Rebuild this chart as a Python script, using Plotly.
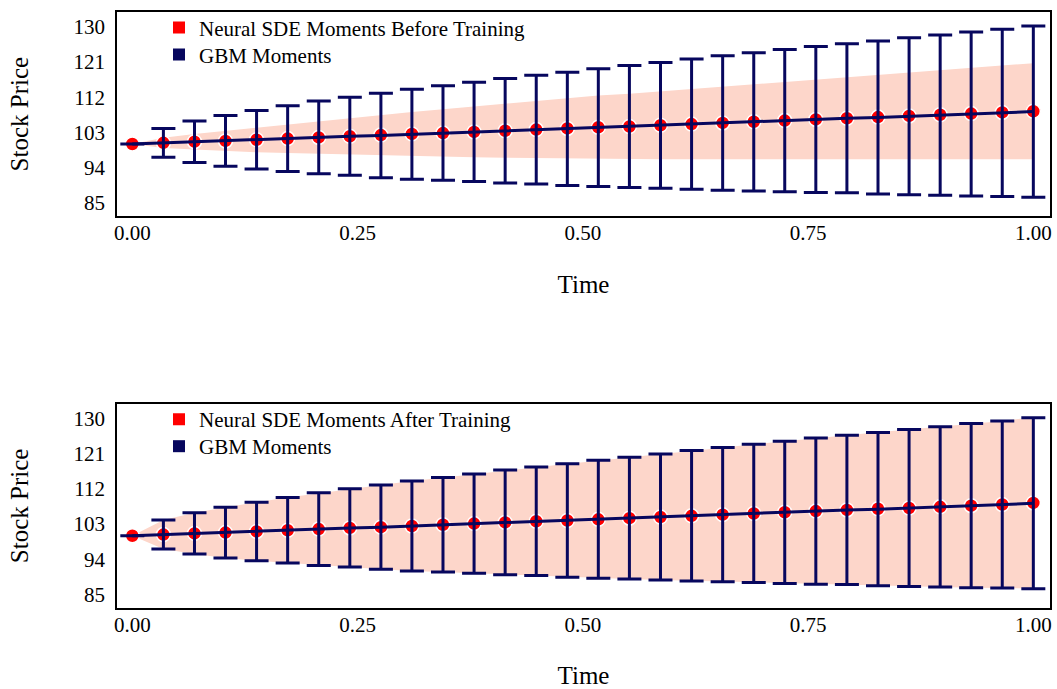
import plotly.graph_objects as go

# ---------------- data ----------------
time = [0.0, 0.0345, 0.0690, 0.1034, 0.1379, 0.1724, 0.2069, 0.2414, 0.2759, 0.3103,
        0.3448, 0.3793, 0.4138, 0.4483, 0.4828, 0.5172, 0.5517, 0.5862, 0.6207, 0.6552,
        0.6897, 0.7241, 0.7586, 0.7931, 0.8276, 0.8621, 0.8966, 0.9310, 0.9655, 1.0]

gbm_mean = [100.0, 100.3, 100.6, 100.8, 101.1, 101.4, 101.7, 102.0, 102.2, 102.5,
            102.8, 103.1, 103.4, 103.7, 103.9, 104.2, 104.5, 104.8, 105.1, 105.4,
            105.7, 106.0, 106.3, 106.6, 106.8, 107.1, 107.4, 107.7, 108.0, 108.3]
gbm_std = [0.0, 3.7, 5.3, 6.5, 7.5, 8.4, 9.3, 10.0, 10.8, 11.5,
           12.1, 12.7, 13.4, 13.9, 14.5, 15.1, 15.6, 16.1, 16.7, 17.2,
           17.7, 18.2, 18.7, 19.1, 19.6, 20.1, 20.5, 21.0, 21.4, 21.9]

sde_mean_before = [100.0, 100.3, 100.6, 100.8, 101.1, 101.4, 101.7, 102.0, 102.3, 102.6,
                   102.8, 103.1, 103.4, 103.7, 104.0, 104.3, 104.5, 104.8, 105.1, 105.4,
                   105.7, 106.0, 106.3, 106.6, 106.9, 107.2, 107.5, 107.8, 108.1, 108.4]
sde_std_before = [0.0, 1.3, 2.0, 2.6, 3.2, 3.7, 4.2, 4.7, 5.2, 5.6,
                  6.1, 6.5, 6.9, 7.3, 7.7, 8.1, 8.4, 8.7, 9.0, 9.3,
                  9.6, 9.9, 10.2, 10.5, 10.8, 11.1, 11.4, 11.7, 12.0, 12.3]

sde_mean_after = [100.0, 100.3, 100.6, 100.8, 101.1, 101.4, 101.7, 102.0, 102.2, 102.5,
                  102.8, 103.1, 103.4, 103.7, 103.9, 104.2, 104.5, 104.8, 105.1, 105.4,
                  105.7, 106.0, 106.3, 106.6, 106.9, 107.1, 107.4, 107.7, 108.0, 108.4]
sde_std_after = [0.0, 3.7, 5.3, 6.5, 7.5, 8.4, 9.2, 10.0, 10.8, 11.5,
                 12.1, 12.7, 13.3, 13.9, 14.5, 15.0, 15.6, 16.1, 16.6, 17.2,
                 17.7, 18.2, 18.6, 19.1, 19.6, 20.1, 20.5, 21.0, 21.4, 21.9]

y_ticks = [85, 94, 103, 112, 121, 130]
x_ticks = [0.0, 0.25, 0.5, 0.75, 1.0]
legend_labels = ["Neural SDE Moments Before Training", "Neural SDE Moments After Training"]
gbm_label = "GBM Moments"

# ---------------- style ----------------
BAND = "#FDD6CA"
RED = "#FF0000"
NAVY = "#07075E"
FONT = "Liberation Serif"

# plot-area pixel geometry
FIG_W, FIG_H = 1057, 689
M_L, M_R, M_T, M_B = 117, 7, 10, 81
PLOT_H = FIG_H - M_T - M_B
PLOT_W = FIG_W - M_L - M_R


def py(pix):
    """pixel row -> paper y coordinate"""
    return (FIG_H - M_B - pix) / PLOT_H


fig = go.Figure()

panels = [
    ("x", "y", ("legend", "legend2"), sde_mean_before, sde_std_before, legend_labels[0]),
    ("x2", "y2", ("legend3", "legend4"), sde_mean_after, sde_std_after, legend_labels[1]),
]

for xref, yref, legs, m, s, lab in panels:
    lower = [a - b for a, b in zip(m, s)]
    upper = [a + b for a, b in zip(m, s)]
    fig.add_trace(go.Scatter(x=time, y=lower, mode="lines", line=dict(width=0, color=BAND),
                             showlegend=False, hoverinfo="skip", xaxis=xref, yaxis=yref))
    fig.add_trace(go.Scatter(x=time, y=upper, mode="lines", line=dict(width=0, color=BAND),
                             fill="tonexty", fillcolor=BAND,
                             showlegend=False, hoverinfo="skip", xaxis=xref, yaxis=yref))
    fig.add_trace(go.Scatter(x=time, y=m, mode="markers",
                             marker=dict(color=RED, size=14, line=dict(color="white", width=1.5)),
                             showlegend=False, xaxis=xref, yaxis=yref))
    fig.add_trace(go.Scatter(x=time, y=gbm_mean, mode="lines",
                             line=dict(color=NAVY, width=3),
                             error_y=dict(type="data", array=gbm_std, visible=True,
                                          color=NAVY, thickness=3, width=12),
                             showlegend=False, xaxis=xref, yaxis=yref))
    # legend entries
    fig.add_trace(go.Scatter(x=[None], y=[None], mode="markers", name=lab,
                             marker=dict(symbol="square", color=RED, size=7),
                             legend=legs[0], xaxis=xref, yaxis=yref))
    fig.add_trace(go.Scatter(x=[None], y=[None], mode="markers", name=gbm_label,
                             marker=dict(symbol="square", color=NAVY, size=7),
                             legend=legs[1], xaxis=xref, yaxis=yref))

axis_common = dict(showline=True, mirror=True, linecolor="black", linewidth=1.5,
                   showgrid=False, zeroline=False, ticks="outside", tickcolor="rgba(0,0,0,0)",
                   automargin=False,
                   tickfont=dict(family=FONT, size=21, color="black"))

xa = dict(axis_common, range=[-0.017, 1.0185], tickvals=x_ticks, tickformat=".2f", ticklen=1,
          ticklabelstandoff=-4,
          title=dict(text="Time", font=dict(family=FONT, size=25, color="black"), standoff=31))
ya = dict(axis_common, range=[81.5, 133.8], tickvals=y_ticks, ticklen=6,
          title=dict(text="Stock Price", font=dict(family=FONT, size=25, color="black"), standoff=38))

leg_common = dict(font=dict(family=FONT, size=21, color="black"), bgcolor="rgba(0,0,0,0)",
                  xanchor="left", yanchor="middle", itemsizing="constant")
LEG_X = 42 / PLOT_W

fig.update_layout(
    width=FIG_W, height=FIG_H,
    margin=dict(l=M_L, r=M_R, t=M_T, b=M_B),
    paper_bgcolor="white", plot_bgcolor="white",
    xaxis=dict(xa, domain=[0, 1], anchor="y"),
    yaxis=dict(ya, domain=[py(215), 1.0], anchor="x"),
    xaxis2=dict(xa, domain=[0, 1], anchor="y2"),
    yaxis2=dict(ya, domain=[0.0, py(403)], anchor="x2"),
    legend=dict(leg_common, x=LEG_X, y=py(26)),
    legend2=dict(leg_common, x=LEG_X, y=py(53)),
    legend3=dict(leg_common, x=LEG_X, y=py(419)),
    legend4=dict(leg_common, x=LEG_X, y=py(446)),
    showlegend=True,
)

fig.write_html("out.html")
